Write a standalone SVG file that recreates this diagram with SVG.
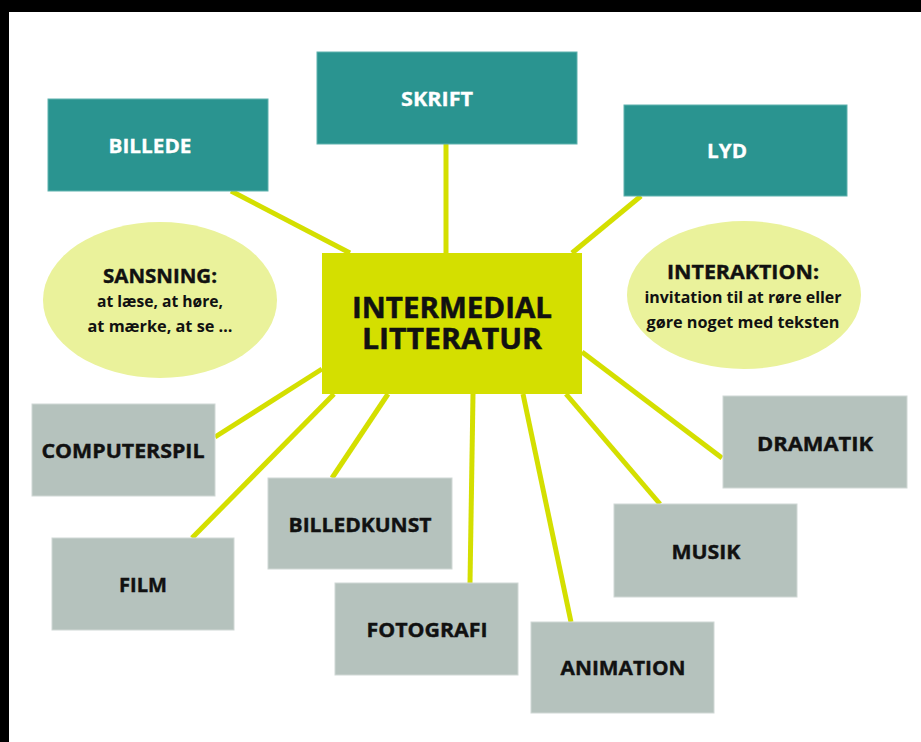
<svg xmlns="http://www.w3.org/2000/svg" width="921" height="742" viewBox="0 0 921 742">
<style>
.teal{fill:#2a9490;stroke:#5fb2ae;stroke-width:1}
.gray{fill:#b5c2bd;stroke:#d0d8d5;stroke-width:1}
.ell{fill:#eaf29b}
.conn line{stroke:#d4df00;stroke-width:5;stroke-linecap:butt}
text{font-family:"Open Sans","Noto Sans","Liberation Sans",sans-serif;font-weight:bold;text-anchor:middle}
.wt{fill:#ffffff;font-size:20px;stroke:#ffffff;stroke-width:0.3}
.bt{fill:#111111;font-size:20px;stroke:#111111;stroke-width:0.4}
.sub{fill:#111111;font-size:16px}
.head{fill:#111111;font-size:20px;stroke:#111111;stroke-width:0.4}
.big{fill:#111111;font-size:28px;stroke:#111111;stroke-width:0.5}
</style>
<rect x="0" y="0" width="921" height="742" fill="#ffffff"/>
<rect x="0" y="0" width="921" height="12" fill="#000000"/>
<rect x="0" y="0" width="9" height="742" fill="#000000"/>
<g id="connectors" class="conn">
<line x1="231" y1="191" x2="350" y2="253"/>
<line x1="446" y1="144" x2="446" y2="253"/>
<line x1="641" y1="196" x2="572" y2="253"/>
<line x1="215" y1="437" x2="322" y2="369"/>
<line x1="192" y1="538" x2="334" y2="394"/>
<line x1="332" y1="478" x2="388" y2="394"/>
<line x1="470" y1="583" x2="473" y2="394"/>
<line x1="571" y1="622" x2="523" y2="394"/>
<line x1="660" y1="504" x2="566" y2="394"/>
<line x1="722" y1="458" x2="582" y2="352"/>
</g>
<g id="billede"><rect class="teal" x="48" y="99" width="220" height="92"/><text class="wt" x="150" y="153" textLength="83" lengthAdjust="spacingAndGlyphs">BILLEDE</text></g>
<g id="skrift"><rect class="teal" x="317" y="52" width="260" height="92"/><text class="wt" x="437" y="106" textLength="72" lengthAdjust="spacingAndGlyphs">SKRIFT</text></g>
<g id="lyd"><rect class="teal" x="624" y="105" width="223" height="91"/><text class="wt" x="727" y="158" textLength="40" lengthAdjust="spacingAndGlyphs">LYD</text></g>
<g id="sansning"><ellipse class="ell" cx="160" cy="300" rx="117" ry="78"/>
<text class="head" x="160" y="283" textLength="114" lengthAdjust="spacingAndGlyphs">SANSNING:</text>
<text class="sub" x="160" y="307" textLength="126" lengthAdjust="spacingAndGlyphs">at læse, at høre,</text>
<text class="sub" x="160" y="332" textLength="145" lengthAdjust="spacingAndGlyphs">at mærke, at se …</text></g>
<g id="interaktion"><ellipse class="ell" cx="744" cy="295" rx="117" ry="74"/>
<text class="head" x="743" y="279" textLength="152" lengthAdjust="spacingAndGlyphs">INTERAKTION:</text>
<text class="sub" x="743" y="303" textLength="197" lengthAdjust="spacingAndGlyphs">invitation til at røre eller</text>
<text class="sub" x="743" y="328" textLength="193" lengthAdjust="spacingAndGlyphs">gøre noget med teksten</text></g>
<g id="central"><rect x="322" y="253" width="260" height="141" fill="#d4df00"/>
<text class="big" x="452" y="318" textLength="200" lengthAdjust="spacingAndGlyphs">INTERMEDIAL</text>
<text class="big" x="452" y="349" textLength="180" lengthAdjust="spacingAndGlyphs">LITTERATUR</text></g>
<g id="computerspil"><rect class="gray" x="32" y="404" width="183" height="92"/><text class="bt" x="123" y="458" textLength="163" lengthAdjust="spacingAndGlyphs">COMPUTERSPIL</text></g>
<g id="film"><rect class="gray" x="52" y="538" width="182" height="92"/><text class="bt" x="143" y="592" textLength="48" lengthAdjust="spacingAndGlyphs">FILM</text></g>
<g id="billedkunst"><rect class="gray" x="268" y="478" width="184" height="91"/><text class="bt" x="360" y="532" textLength="143" lengthAdjust="spacingAndGlyphs">BILLEDKUNST</text></g>
<g id="fotografi"><rect class="gray" x="335" y="583" width="183" height="92"/><text class="bt" x="427" y="637" textLength="121" lengthAdjust="spacingAndGlyphs">FOTOGRAFI</text></g>
<g id="animation"><rect class="gray" x="531" y="622" width="183" height="91"/><text class="bt" x="623" y="675" textLength="125" lengthAdjust="spacingAndGlyphs">ANIMATION</text></g>
<g id="musik"><rect class="gray" x="614" y="504" width="183" height="93"/><text class="bt" x="706" y="559" textLength="69" lengthAdjust="spacingAndGlyphs">MUSIK</text></g>
<g id="dramatik"><rect class="gray" x="723" y="396" width="184" height="92"/><text class="bt" x="815" y="451" textLength="116" lengthAdjust="spacingAndGlyphs">DRAMATIK</text></g>
</svg>
